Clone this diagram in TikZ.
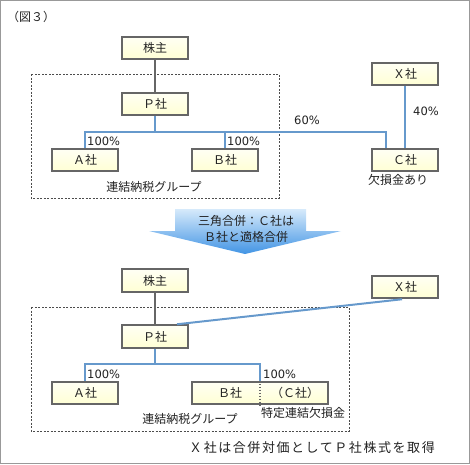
\documentclass[tikz,border=0pt]{standalone}
\usepackage{fontspec}
\setmainfont{Noto Sans CJK JP}
\newfontfamily\numfont{DejaVu Sans}
\definecolor{colBox}{RGB}{102,102,102}
\definecolor{colLine}{RGB}{102,153,204}
\definecolor{colFillT}{RGB}{255,255,244}
\definecolor{colFillB}{RGB}{255,255,212}
\definecolor{colArrT}{RGB}{214,234,251}
\definecolor{colArrB}{RGB}{66,148,228}
\definecolor{colText}{RGB}{34,34,34}
\tikzstyle{company}=[rectangle, draw=colBox, line width=2pt, top color=colFillT, bottom color=colFillB, minimum width=66pt, minimum height=22.5pt, inner sep=0pt, text=colText]
\tikzstyle{lbl}=[inner sep=0pt, text=colText]
\tikzstyle{pct}=[lbl, font=\numfont\fontsize{11.5}{14}\selectfont]
\tikzstyle{bline}=[line width=2pt, colLine]
\tikzstyle{gline}=[line width=2pt, colBox]
\tikzstyle{group}=[draw=black!70, line width=0.8pt, dash pattern=on 2pt off 1.5pt]

\begin{document}
\begin{tikzpicture}[x=1pt, y=-1pt, font=\fontsize{12}{15}\selectfont]
	\useasboundingbox (0,0) rectangle (470,464);
	\draw[black!40, line width=1pt] (0.5,0.5) rectangle (469.5,463.5);
	\node[lbl, anchor=west] (fig) at (7,17) {（図３）};

	%%% Before merger
	\draw[group] (31,74) rectangle (279,198);
	\node[company] (kabu1) at (155,48)  {株主};
	\node[company] (p1)    at (155,104) {Ｐ社};
	\node[company] (a1)    at (85,160)  {Ａ社};
	\node[company] (b1)    at (225,160) {Ｂ社};
	\node[company] (c1)    at (405,160) {Ｃ社};
	\node[company] (x1)    at (405,74)  {Ｘ社};
	\coordinate (j1)   at (155,132);
	\coordinate (cTop) at (386,148);

	% Connectors
	\draw[gline] (kabu1)--(p1);
	\draw[bline] (p1.south)--(j1);
	\draw[bline] (a1.north) |- (j1) -| (cTop);
	\draw[bline] (b1.north)--(b1.north |- j1);
	\draw[bline] (x1.south)--(c1.north);
	%%% Labels
	\node[pct, anchor=west] (pa1) at (87,141)  {100\%};
	\node[pct, anchor=west] (pb1) at (227,141) {100\%};
	\node[pct] (pc1) at (307,120) {60\%};
	\node[pct] (px1) at (426,111) {40\%};
	\node[lbl, anchor=west] (loss1) at (368,180) {欠損金あり};
	\node[lbl] (grp1) at (154,187) {連結納税グループ};

	%%% Arrow
	\shade[top color=colArrT, bottom color=colArrB]
		(175,209) -- (306,209) -- (306,231) -- (341,231) -- (245,254)
		-- (149,231) -- (175,231) -- cycle;
	\node[lbl, align=center, font=\fontsize{12}{16}\selectfont] (merge) at (246,229) {三角合併：Ｃ社は\\Ｂ社と適格合併};

	%%% After merger
	\draw[group] (31,307) rectangle (349,431);
	\node[company] (kabu2) at (155,280.5) {株主};
	\node[company] (p2)    at (155,336.5) {Ｐ社};
	\node[company] (x2)    at (405,287)   {Ｘ社};
	\node[company] (a2)    at (85,393)    {Ａ社};
	\node[company, minimum width=136pt] (bc2) at (260,393) {};
	\node[lbl] (b2) at (230,393) {Ｂ社};
	\node[lbl] (c2) at (295,393) {（Ｃ社）};
	\draw[colBox, line width=1.2pt, dash pattern=on 1.5pt off 1.5pt] (bc2.north)--(bc2.south);
	\coordinate (j2) at (155,364);

	% Connectors
	\draw[gline] (kabu2)--(p2);
	\draw[bline] ([xshift=22pt]p2.north)--([xshift=-3pt]x2.south);
	\draw[bline] (p2.south)--(j2);
	\draw[bline] (a2.north) |- (j2) -| (bc2.north);
	%%% Labels
	\node[pct, anchor=west] (pa2) at (87,374)  {100\%};
	\node[pct, anchor=west] (pc2) at (263,374) {100\%};
	\node[lbl] (loss2) at (303,413) {特定連結欠損金};
	\node[lbl] (grp2) at (190,419) {連結納税グループ};
	\node[lbl, font=\fontsize{13}{15}\selectfont\addfontfeature{LetterSpace=12}] (note) at (312,448) {Ｘ社は合併対価としてＰ社株式を取得};
\end{tikzpicture}
\end{document}
